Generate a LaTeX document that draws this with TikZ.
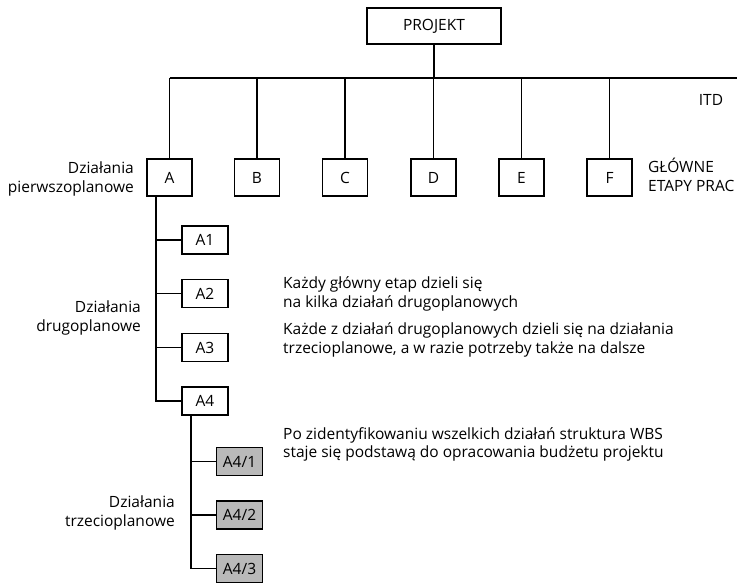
\documentclass[tikz,border=0pt]{standalone}
\usepackage{fontspec}
\setmainfont{Open Sans}
\usepackage{tikz}

\tikzset{
  etap/.style={draw,line width=1.5pt,minimum width=45pt,minimum height=37pt,inner sep=0pt},
  podetap/.style={draw,line width=1.5pt,minimum width=46pt,minimum height=28pt,inner sep=0pt},
  trzeci/.style={podetap,fill=gray!55},
  opis/.style={inner sep=0pt,font=\fontsize{15.5}{18.5}\selectfont},
  linia/.style={line width=1.5pt}
}

\begin{document}
\begin{tikzpicture}[x=1pt,y=-1pt,font=\fontsize{15.5}{18}\selectfont]
            \useasboundingbox (0,0) rectangle (741,582);
            \node[etap,minimum width=134pt,minimum height=36pt] (proj) at (434,26) {PROJEKT};
            \node[etap] (A) at (169.5,177.5) {A};
            \node[etap] (B) at (257,177.5) {B};
            \node[etap] (C) at (345,177.5) {C};
            \node[etap] (D) at (433.5,177.5) {D};
            \node[etap] (E) at (521.5,177.5) {E};
            \node[etap] (F) at (609.5,177.5) {F};
            \node[podetap] (A1) at (205,240) {A1};
            \node[podetap] (A2) at (205,293.5) {A2};
            \node[podetap] (A3) at (205,347.5) {A3};
            \node[podetap] (A4) at (205,401) {A4};
            \node[trzeci] (A41) at (239.5,461.5) {A4/1};
            \node[trzeci] (A42) at (239.5,515) {A4/2};
            \node[trzeci] (A43) at (239.5,568.5) {A4/3};
            \coordinate (barL) at (169.5,78);
            \coordinate (barR) at (737,78);
            \coordinate (aTrunk) at ([xshift=-13.5pt]A.south);
            \coordinate (a4Trunk) at ([xshift=-14pt]A4.south);
            \draw[linia] (proj.south) -- (proj.south |- barL);
            \draw[linia] (barL) -- (barR);
            \draw[linia] (A.north) -- (A.north |- barL);
            \draw[linia] (B.north) -- (B.north |- barL);
            \draw[linia] (C.north) -- (C.north |- barL);
            \draw[linia] (D.north) -- (D.north |- barL);
            \draw[linia] (E.north) -- (E.north |- barL);
            \draw[linia] (F.north) -- (F.north |- barL);
            \draw[linia] (aTrunk) |- (A4.west);
            \draw[linia] (aTrunk |- A1.west) -- (A1.west);
            \draw[linia] (aTrunk |- A2.west) -- (A2.west);
            \draw[linia] (aTrunk |- A3.west) -- (A3.west);
            \draw[linia] (a4Trunk) |- (A43.west);
            \draw[linia] (a4Trunk |- A41.west) -- (A41.west);
            \draw[linia] (a4Trunk |- A42.west) -- (A42.west);
            \node[opis,anchor=east,align=right] (lblFirst) at (134,179) {Działania\\pierwszoplanowe};
            \node[opis,anchor=east,align=right] (lblSecond) at (141,318) {Działania\\drugoplanowe};
            \node[opis,anchor=east,align=right] (lblThird) at (175,513) {Działania\\trzecioplanowe};
            \node[opis] (itd) at (711,100) {ITD};
            \node[opis,anchor=west,align=left] (glowne) at (648,175) {GŁÓWNE\\ETAPY PRAC};
            \node[opis,anchor=west,align=left] (txtOne) at (283,294) {Każdy główny etap dzieli się\\na kilka działań drugoplanowych};
            \node[opis,anchor=west,align=left] (txtTwo) at (283,340) {Każde z działań drugoplanowych dzieli się na działania\\trzecioplanowe, a w razie potrzeby także na dalsze};
            \node[opis,anchor=west,align=left] (txtThree) at (283,444.5) {Po zidentyfikowaniu wszelkich działań struktura WBS\\staje się podstawą do opracowania budżetu projektu};
        \end{tikzpicture}
\end{document}
